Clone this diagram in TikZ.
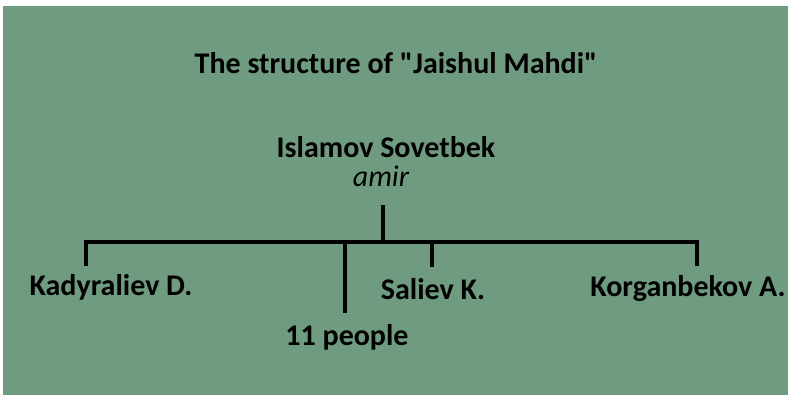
\documentclass[tikz,border=0pt]{standalone}
\usepackage{fontspec}
\setmainfont{Carlito}[Ligatures=TeXOff]
\definecolor{fieldgreen}{HTML}{6F9C80}
\begin{document}
\begin{tikzpicture}[x=1pt, y=-1pt,
    every node/.style = {inner sep=0pt, anchor=base,
    font=\fontsize{30}{36}\selectfont\bfseries},
    bar/.style = {line width=3.6pt, line join=miter}]
    \useasboundingbox (0,0) rectangle (788,395);
    \fill[fieldgreen] (3,6) rectangle (788,395);
    \node (title) at (396,74) {The structure of "Jaishul Mahdi"};
    \node (boss) at (386,158) {Islamov Sovetbek};
    \node[font=\fontsize{30}{36}\selectfont\itshape] (amir) at (381,187) {amir};
    \node (kady) at (111,296) {Kadyraliev D.};
    \node (people) at (347,346) {11 people};
    \node (saliev) at (433,300) {Saliev K.};
    \node (korg) at (688,297) {Korganbekov A.};
    \coordinate (hub) at (383,242);
    \coordinate (kadytop) at (86,266);
    \coordinate (peopletop) at (345,313);
    \coordinate (salievtop) at (432,267);
    \coordinate (korgtop) at (697,266);
    \draw[bar] ([yshift=-18pt]amir.south -| hub) -- (hub);
    \draw[bar] (kadytop) -- (kadytop |- hub) -- (korgtop |- hub) -- (korgtop);
    \draw[bar] (peopletop |- hub) -- (peopletop);
    \draw[bar] (salievtop |- hub) -- (salievtop);
  \end{tikzpicture}
\end{document}
